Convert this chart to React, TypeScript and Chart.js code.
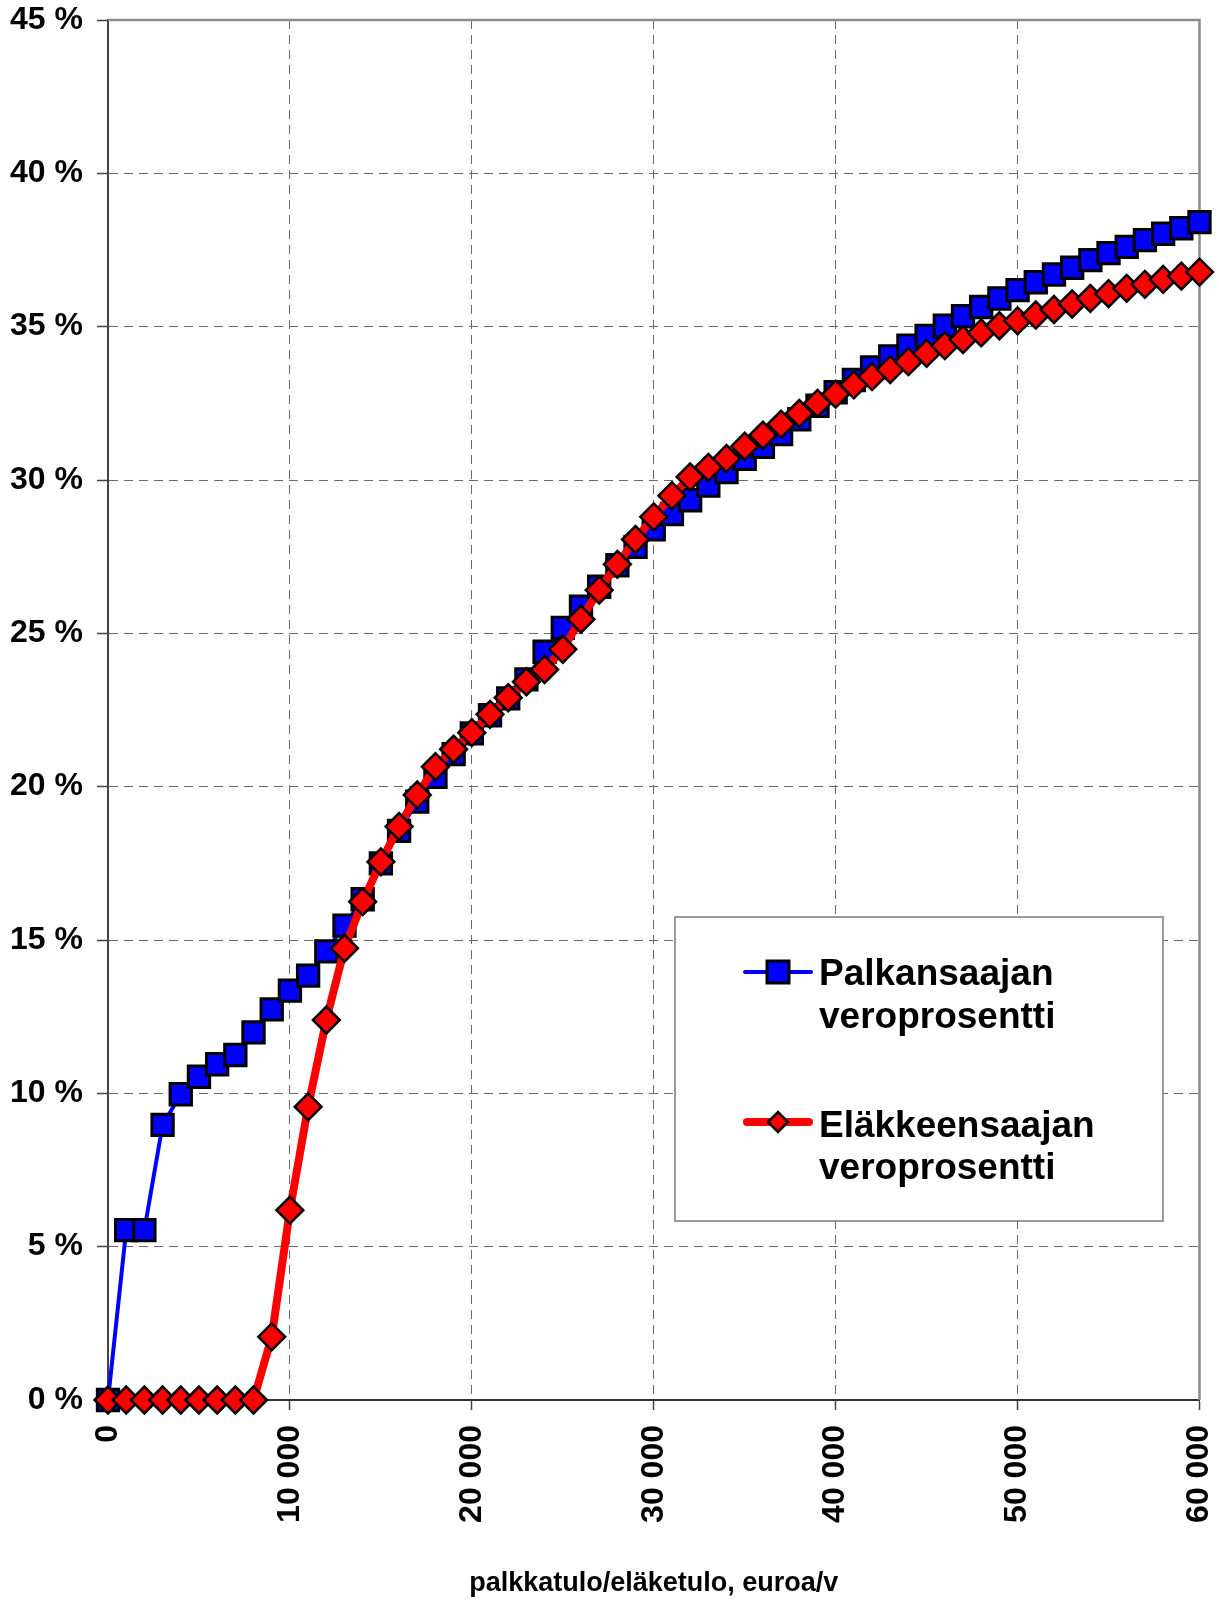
import React, { useEffect, useRef } from 'react';
import { Chart, registerables } from 'chart.js';

Chart.register(...registerables);

// ---------- DATA ----------
const incomes = [
  0, 1000, 2000, 3000, 4000, 5000, 6000, 7000, 8000, 9000,
  10000, 11000, 12000, 13000, 14000, 15000, 16000, 17000, 18000, 19000,
  20000, 21000, 22000, 23000, 24000, 25000, 26000, 27000, 28000, 29000,
  30000, 31000, 32000, 33000, 34000, 35000, 36000, 37000, 38000, 39000,
  40000, 41000, 42000, 43000, 44000, 45000, 46000, 47000, 48000, 49000,
  50000, 51000, 52000, 53000, 54000, 55000, 56000, 57000, 58000, 59000,
  60000,
];

const palkansaajanVeroprosentti = [
  0, 5.54, 5.54, 8.97, 9.97, 10.54, 10.95, 11.25, 11.99, 12.74,
  13.35, 13.84, 14.63, 15.47, 16.33, 17.5, 18.56, 19.51, 20.32, 21.06,
  21.74, 22.33, 22.88, 23.5, 24.4, 25.18, 25.87, 26.52, 27.22, 27.82,
  28.39, 28.89, 29.34, 29.82, 30.26, 30.69, 31.08, 31.5, 31.98, 32.42,
  32.86, 33.26, 33.67, 34.03, 34.38, 34.7, 35.03, 35.34, 35.64, 35.92,
  36.19, 36.45, 36.7, 36.92, 37.17, 37.4, 37.6, 37.82, 38.03, 38.21,
  38.41,
];

const elakkeensaajanVeroprosentti = [
  0, 0, 0, 0, 0, 0, 0, 0, 0, 2.06,
  6.19, 9.56, 12.39, 14.73, 16.25, 17.55, 18.7, 19.73, 20.65, 21.22,
  21.76, 22.36, 22.9, 23.42, 23.82, 24.48, 25.46, 26.41, 27.25, 28.06,
  28.8, 29.49, 30.1, 30.41, 30.7, 31.1, 31.46, 31.82, 32.17, 32.5,
  32.8, 33.1, 33.37, 33.6, 33.86, 34.13, 34.38, 34.58, 34.8, 35.03,
  35.19, 35.38, 35.56, 35.74, 35.92, 36.08, 36.25, 36.38, 36.54, 36.65,
  36.78,
];

const xTickValues = [0, 10000, 20000, 30000, 40000, 50000, 60000];
const yTickValues = [0, 5, 10, 15, 20, 25, 30, 35, 40, 45];

const seriesPalkansaaja = ['Palkansaajan', 'veroprosentti'];
const seriesElakkeensaaja = ['Eläkkeensaajan', 'veroprosentti'];
const xAxisTitle = 'palkkatulo/eläketulo, euroa/v';

// ---------- STYLE ----------
const FONT = '"Liberation Sans", Arial, Helvetica, sans-serif';
const BLUE = '#0000ff';
const RED = '#ff0000';
const GRID = '#6a6a6a';
const DASH = [9, 6];

const fmtThousands = (v: number) =>
  String(v).replace(/\B(?=(\d{3})+(?!\d))/g, ' ');

const frameBorderPlugin = {
  id: 'frameBorder',
  beforeDatasetsDraw(chart: any) {
    const { ctx, chartArea } = chart;
    ctx.save();
    ctx.strokeStyle = '#8c8c8c';
    ctx.lineWidth = 2.5;
    ctx.setLineDash([]);
    ctx.beginPath();
    ctx.moveTo(chartArea.left, chartArea.top);
    ctx.lineTo(chartArea.right, chartArea.top);
    ctx.lineTo(chartArea.right, chartArea.bottom);
    ctx.stroke();
    ctx.restore();
  },
};

const legendPlugin = {
  id: 'customLegendBox',
  afterDatasetsDraw(chart: any) {
    const { ctx } = chart;
    ctx.save();
    // box
    ctx.fillStyle = '#ffffff';
    ctx.fillRect(675, 917, 488, 304);
    ctx.strokeStyle = '#7a7a7a';
    ctx.lineWidth = 1.5;
    ctx.setLineDash([]);
    ctx.strokeRect(675, 917, 488, 304);

    // item 1: blue line + square
    ctx.lineCap = 'round';
    ctx.strokeStyle = BLUE;
    ctx.lineWidth = 4;
    ctx.beginPath();
    ctx.moveTo(745, 972);
    ctx.lineTo(811, 972);
    ctx.stroke();
    ctx.fillStyle = BLUE;
    ctx.strokeStyle = '#000';
    ctx.lineWidth = 3;
    ctx.beginPath();
    ctx.rect(778 - 11, 972 - 11, 22, 22);
    ctx.fill();
    ctx.stroke();

    // item 2: red line + diamond
    ctx.strokeStyle = RED;
    ctx.lineWidth = 8;
    ctx.beginPath();
    ctx.moveTo(747, 1122);
    ctx.lineTo(809, 1122);
    ctx.stroke();
    ctx.fillStyle = RED;
    ctx.strokeStyle = '#000';
    ctx.lineWidth = 2.5;
    const r = 10;
    ctx.beginPath();
    ctx.moveTo(778 - r, 1122);
    ctx.lineTo(778, 1122 - r);
    ctx.lineTo(778 + r, 1122);
    ctx.lineTo(778, 1122 + r);
    ctx.closePath();
    ctx.fill();
    ctx.stroke();

    // texts
    ctx.fillStyle = '#000';
    ctx.font = `bold 37px ${FONT}`;
    ctx.textAlign = 'left';
    ctx.textBaseline = 'alphabetic';
    ctx.fillText(seriesPalkansaaja[0], 819, 985);
    ctx.fillText(seriesPalkansaaja[1], 819, 1028);
    ctx.fillText(seriesElakkeensaaja[0], 819, 1137);
    ctx.fillText(seriesElakkeensaaja[1], 819, 1179);
    ctx.restore();
  },
};

export default function App() {
  const canvasRef = useRef<HTMLCanvasElement | null>(null);

  useEffect(() => {
    document.body.style.margin = '0';
    const canvas = canvasRef.current;
    if (!canvas) return;

    const chart = new Chart(canvas, {
      type: 'line',
      data: {
        datasets: [
          {
            label: seriesPalkansaaja.join(' '),
            data: incomes.map((x, i) => ({ x, y: palkansaajanVeroprosentti[i] })),
            borderColor: BLUE,
            backgroundColor: BLUE,
            borderWidth: 4,
            tension: 0,
            pointStyle: 'rect',
            pointRadius: 15.1,
            pointBorderWidth: 3,
            pointBackgroundColor: BLUE,
            pointBorderColor: '#000',
            clip: false,
            order: 2,
          },
          {
            label: seriesElakkeensaaja.join(' '),
            data: incomes.map((x, i) => ({ x, y: elakkeensaajanVeroprosentti[i] })),
            borderColor: RED,
            backgroundColor: RED,
            borderWidth: 8,
            borderJoinStyle: 'round',
            tension: 0,
            pointStyle: 'rectRot',
            pointRadius: 13.4,
            pointBorderWidth: 2.5,
            pointBackgroundColor: RED,
            pointBorderColor: '#000',
            clip: false,
            order: 1,
          },
        ] as any,
      },
      options: {
        animation: false,
        responsive: false,
        events: [],
        layout: { padding: { top: 20, right: 19.5, left: 0, bottom: 0 } },
        plugins: {
          legend: { display: false },
          tooltip: { enabled: false },
          title: { display: false },
        },
        scales: {
          x: {
            type: 'linear',
            min: 0,
            max: 60000,
            afterBuildTicks: (scale: any) => {
              scale.ticks = xTickValues.map((v) => ({ value: v }));
            },
            afterFit: (scale: any) => {
              scale.height = 200;
              scale.paddingLeft = 0;
              scale.paddingRight = 0;
            },
            ticks: {
              autoSkip: false,
              minRotation: 90,
              maxRotation: 90,
              padding: 15,
              color: '#000',
              font: { family: FONT, size: 32, weight: 'bold' },
              callback: (v: any) => fmtThousands(Number(v)),
            },
            grid: {
              color: GRID,
              lineWidth: 1,
              tickLength: 10,
              tickWidth: 1.5,
              tickColor: '#444',
              tickBorderDash: [],
            },
            border: { display: true, color: '#333', width: 2, dash: DASH },
            title: {
              display: true,
              text: xAxisTitle,
              color: '#000',
              font: { family: FONT, size: 27, weight: 'bold' },
              padding: { top: 0, bottom: 0 },
            },
          },
          y: {
            type: 'linear',
            min: 0,
            max: 45,
            afterBuildTicks: (scale: any) => {
              scale.ticks = yTickValues.map((v) => ({ value: v }));
            },
            afterFit: (scale: any) => {
              scale.width = 108;
              scale.paddingTop = 0;
              scale.paddingBottom = 0;
            },
            ticks: {
              padding: 14,
              color: '#000',
              font: { family: FONT, size: 32, weight: 'bold' },
              callback: (v: any) => `${v} %`,
            },
            grid: {
              color: GRID,
              lineWidth: 1,
              tickLength: 11,
              tickWidth: 1.5,
              tickColor: '#444',
              tickBorderDash: [],
            },
            border: { display: true, color: '#444', width: 2, dash: DASH },
          },
        },
      } as any,
      plugins: [frameBorderPlugin, legendPlugin],
    });

    return () => chart.destroy();
  }, []);

  return (
    <div style={{ position: 'absolute', left: 0, top: 0, width: 1219, height: 1600 }}>
      <canvas ref={canvasRef} width={1219} height={1600} style={{ display: 'block' }} />
    </div>
  );
}
